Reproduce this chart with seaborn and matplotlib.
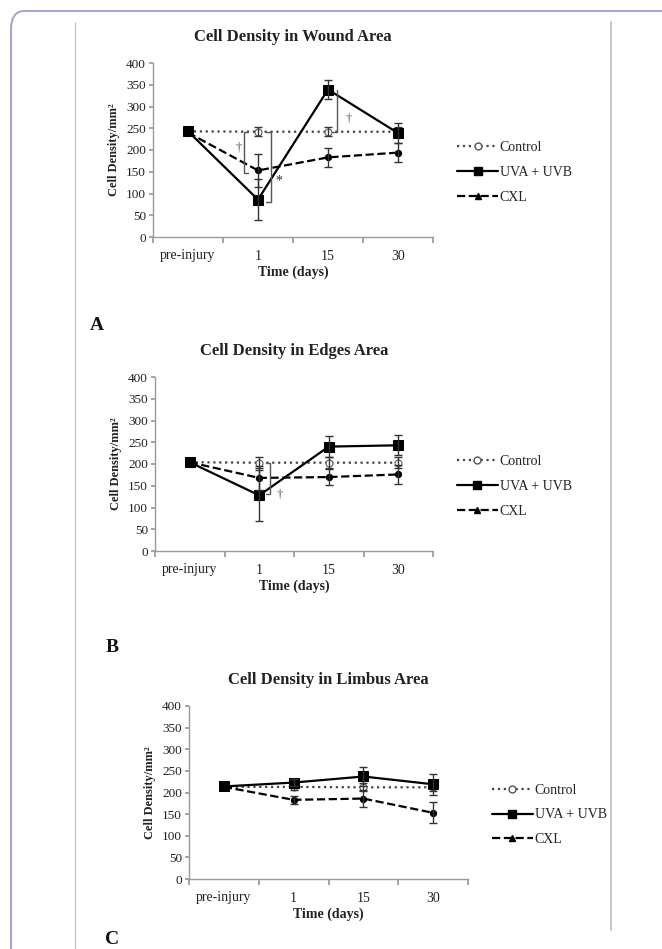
import matplotlib
matplotlib.use("Agg")
import matplotlib.pyplot as plt
from matplotlib.lines import Line2D
from matplotlib.patches import FancyBboxPatch
import seaborn as sns
import pandas as pd

# data
time_labels = ["pre-injury", "1", "15", "30"]
series_names = ["Control", "UVA + UVB", "CXL"]

wound_control = [243, 242, 242, 242]
wound_control_err = [0, 10, 10, 10]
wound_uv = [243, 86, 339, 239]
wound_uv_err = [0, 47, 22, 23]
wound_cxl = [240, 153, 183, 194]
wound_cxl_err = [0, 38, 21, 22]

edges_control = [204, 203, 203, 203]
edges_control_err = [0, 12, 12, 12]
edges_uv = [204, 128, 240, 243]
edges_uv_err = [0, 58, 24, 23]
edges_cxl = [204, 168, 170, 176]
edges_cxl_err = [0, 27, 19, 22]

limbus_control = [213, 213, 212, 212]
limbus_control_err = [0, 8, 9, 9]
limbus_uv = [214, 223, 237, 219]
limbus_uv_err = [0, 8, 21, 24]
limbus_cxl = [213, 183, 186, 153]
limbus_cxl_err = [0, 9, 20, 24]

sns.set_theme(style="white")
plt.rcParams['font.family'] = ['Liberation Serif', 'DejaVu Serif']
txt = "#222222"
spine_col = "#9a9a9a"

fig = plt.figure(figsize=(6.62, 9.49), dpi=100)

# page frame
frame = FancyBboxPatch((11 / 662, -0.05), 1.2, 1 - 11 / 949 + 0.05,
                       boxstyle="round,pad=0,rounding_size=0.02",
                       transform=fig.transFigure, fill=False,
                       edgecolor="#a9a7c9", linewidth=1.5, clip_on=False)
fig.add_artist(frame)
fig.add_artist(Line2D([75 / 662, 75 / 662], [0, 1 - 22 / 949],
                      transform=fig.transFigure, color="#bdbdbd", lw=0.8))
fig.add_artist(Line2D([611 / 662, 611 / 662], [1 - 930 / 949, 1 - 22 / 949],
                      transform=fig.transFigure, color="#bdbdbd", lw=1.2))

styles = {
    "Control": dict(linestyle=":", marker="o", markersize=5, markerfacecolor="white",
                    markeredgecolor="#555555", color="#444444"),
    "UVA + UVB": dict(linestyle="-", marker="s", markersize=7, markerfacecolor="black",
                      markeredgecolor="black", color="black"),
    "CXL": dict(linestyle="--", marker="o", markersize=4.5, markerfacecolor="black",
                markeredgecolor="black", color="black"),
}


def draw_panel(rect, title, vals, errs):
    ax = fig.add_axes(rect)
    pos = list(range(len(time_labels)))
    for name, v, e in zip(series_names, vals, errs):
        df = pd.DataFrame({"pos": pos, "value": v})
        sns.lineplot(data=df, x="pos", y="value", ax=ax, linewidth=1.6, **styles[name])
        ax.errorbar(pos[1:], v[1:], yerr=e[1:], fmt="none", ecolor="#333333",
                    elinewidth=1.0, capsize=3, capthick=1.0)
    ax.set_xlim(-0.5, 3.5)
    ax.set_ylim(0, 400)
    ax.set_yticks(range(0, 401, 50))
    ax.set_xticks([-0.5, 0.5, 1.5, 2.5, 3.5])
    ax.set_xticklabels([])
    ax.set_xticks(pos, minor=True)
    ax.set_xticklabels(time_labels, minor=True)
    ax.tick_params(axis="x", which="major", length=4, color=spine_col, direction="out")
    ax.tick_params(axis="x", which="minor", length=0, pad=9, labelsize=10, labelcolor=txt)
    ax.tick_params(axis="y", length=3, color=spine_col, direction="out", labelsize=9.5,
                   labelcolor=txt, pad=2)
    ax.tick_params(bottom=True, left=True)
    for s in ["top", "right"]:
        ax.spines[s].set_visible(False)
    for s in ["left", "bottom"]:
        ax.spines[s].set_color(spine_col)
        ax.spines[s].set_linewidth(1.0)
    ax.set_xlabel("Time (days)", fontsize=10, fontweight="bold", color=txt, labelpad=2)
    ax.set_ylabel("Cell Density/mm²", fontsize=9, fontweight="bold", color=txt, labelpad=4)
    ax.set_title(title, fontsize=12, fontweight="bold", color=txt, pad=16)
    ax.grid(False)
    handles = []
    for name in series_names:
        st = dict(styles[name])
        if name == "CXL":
            st["marker"] = "^"
            st["markersize"] = 5
        if name == "UVA + UVB":
            st["markersize"] = 6
        handles.append(Line2D([], [], linewidth=1.6, **st))
    ax.legend(handles, series_names, loc="center left", bbox_to_anchor=(1.04, 0.37),
              frameon=False, fontsize=10, labelspacing=0.85, handlelength=3.0,
              handletextpad=0.1, labelcolor=txt)
    return ax


axA = draw_panel([153 / 662, 1 - 237 / 949, 280 / 662, 174 / 949],
                 "Cell Density in Wound Area",
                 [wound_control, wound_uv, wound_cxl],
                 [wound_control_err, wound_uv_err, wound_cxl_err])
axB = draw_panel([155 / 662, 1 - 551 / 949, 278 / 662, 174 / 949],
                 "Cell Density in Edges Area",
                 [edges_control, edges_uv, edges_cxl],
                 [edges_control_err, edges_uv_err, edges_cxl_err])
axC = draw_panel([189 / 662, 1 - 879 / 949, 279 / 662, 173 / 949],
                 "Cell Density in Limbus Area",
                 [limbus_control, limbus_uv, limbus_cxl],
                 [limbus_control_err, limbus_uv_err, limbus_cxl_err])

# significance brackets
br = dict(color="#555555", lw=1.0)
axA.plot([0.85, 0.8, 0.8, 0.85], [wound_control[1], wound_control[1], wound_cxl[1] - 5, wound_cxl[1] - 5], **br)
axA.text(0.72, 205, "†", fontsize=9, color="#555555", ha="center", va="center")
axA.plot([1.12, 1.18, 1.18, 1.12], [wound_control[1], wound_control[1], wound_uv[1] - 5, wound_uv[1] - 5], **br)
axA.text(1.3, 128, "*", fontsize=10, color="#333333", ha="center", va="center")
axA.plot([2.13, 2.13, 2.05], [wound_uv[2], wound_control[2], wound_control[2]], **br)
axA.text(2.3, 272, "†", fontsize=9, color="#555555", ha="center", va="center")

axB.plot([1.1, 1.16, 1.16, 1.1], [edges_control[1], edges_control[1], edges_uv[1] + 2, edges_uv[1] + 2], **br)
axB.text(1.3, 130, "†", fontsize=9, color="#555555", ha="center", va="center")

# panel letters
for lab, (x, y) in zip("ABC", [(97, 325), (112, 648), (112, 940)]):
    fig.text(x / 662, 1 - y / 949, lab, fontsize=14, fontweight="bold", color="#111111",
             ha="center", va="center")

fig.savefig("out.png", dpi=100)
